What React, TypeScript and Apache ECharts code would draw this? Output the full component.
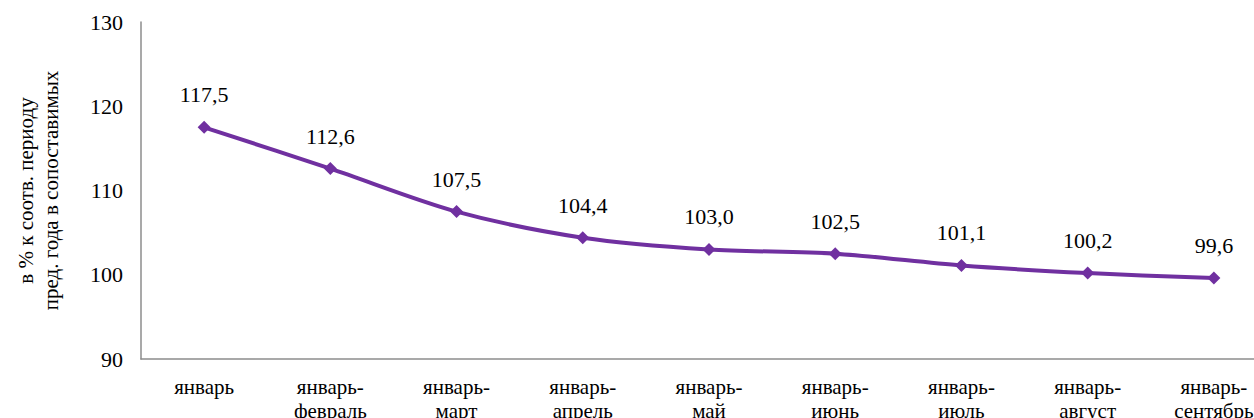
import React, { useEffect, useRef } from "react";
import * as echarts from "echarts";

const categories = [
  "январь",
  "январь-\nфевраль",
  "январь-\nмарт",
  "январь-\nапрель",
  "январь-\nмай",
  "январь-\nиюнь",
  "январь-\nиюль",
  "январь-\nавгуст",
  "январь-\nсентябрь",
];
const values = [117.5, 112.6, 107.5, 104.4, 103.0, 102.5, 101.1, 100.2, 99.6];
const yAxisName = "в % к соотв. периоду\nпред. года в сопоставимых";

export default function App() {
  const ref = useRef<HTMLDivElement>(null);
  useEffect(() => {
    if (!ref.current) return;
    const chart = echarts.init(ref.current, undefined, { renderer: "svg" });
    const font = "Liberation Serif";
    chart.setOption({
      animation: false,
      textStyle: { fontFamily: font },
      grid: {
        left: 141,
        right: -23,
        top: 22,
        bottom: 59,
        containLabel: false,
        outerBoundsMode: "none",
      },
      xAxis: {
        type: "category",
        data: categories,
        boundaryGap: true,
        axisLine: { show: true, lineStyle: { color: "#8c8c8c", width: 1.5 } },
        axisTick: { show: false },
        axisLabel: {
          color: "#000",
          fontSize: 21,
          fontFamily: font,
          lineHeight: 24,
          margin: 16,
          interval: 0,
        },
      },
      yAxis: {
        type: "value",
        min: 90,
        max: 130,
        interval: 10,
        name: yAxisName,
        nameLocation: "middle",
        nameGap: 78,
        nameRotate: 90,
        nameTextStyle: { color: "#000", fontSize: 21, fontFamily: font, lineHeight: 25 },
        axisLine: { show: true, lineStyle: { color: "#8c8c8c", width: 1.5 } },
        axisTick: { show: false },
        splitLine: { show: false },
        axisLabel: { color: "#000", fontSize: 22, fontFamily: font, margin: 18 },
      },
      series: [
        {
          type: "line",
          data: values,
          smooth: 0.3,
          symbol: "diamond",
          symbolSize: 13,
          lineStyle: { color: "#7030A0", width: 4 },
          itemStyle: { color: "#7030A0" },
          label: {
            show: true,
            position: "top",
            distance: 15,
            color: "#000",
            fontSize: 22,
            fontFamily: font,
            formatter: (p: any) => p.value.toFixed(1).replace(".", ","),
          },
        },
      ],
    });
    return () => chart.dispose();
  }, []);
  return (
    <div
      ref={ref}
      style={{ position: "absolute", left: 0, top: 0, width: 1254, height: 418, overflow: "hidden" }}
    />
  );
}
